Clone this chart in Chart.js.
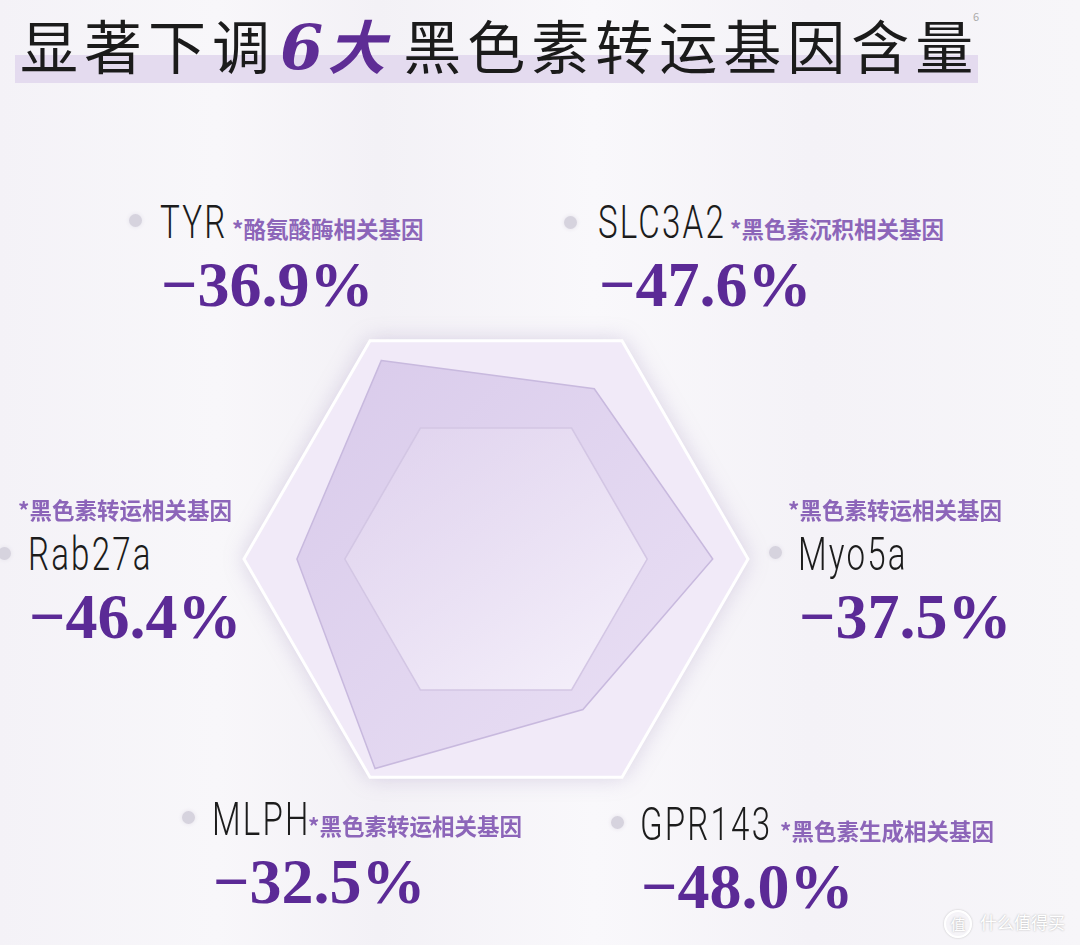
<!DOCTYPE html>
<html>
<head>
<meta charset="utf-8">
<script src="https://cdn.jsdelivr.net/npm/chart.js@4/dist/chart.umd.min.js"></script>
<style>
  html, body { margin: 0; padding: 0; }
  body {
    width: 1080px; height: 945px; position: relative; overflow: hidden;
    background: linear-gradient(90deg, #f4f2f7 0%, #f8f7fa 20%, #f3f1f6 35%, #f9f8fb 55%, #f4f2f7 75%, #f7f6f9 100%);
    font-family: "Noto Sans CJK SC", "Noto Sans", sans-serif;
  }
  .title-band { position: absolute; left: 15px; top: 55px; width: 963px; height: 28px; background: #e4dbef; }
  .title { position: absolute; left: 20px; top: 2px; font-size: 58px; line-height: 84px; color: #1b1b1b; letter-spacing: 6px; white-space: nowrap; }
  .title .hl { color: #5e2d95; font-family: "DejaVu Serif", serif; font-style: italic; font-weight: bold; font-size: 62px; letter-spacing: 0; margin: 0 4px 0 4px; }
  .title .hl2 { color: #5e2d95; font-weight: bold; font-style: italic; letter-spacing: 0; margin-right: 18px; }
  .sup { position: absolute; left: 973px; top: 8px; font-size: 11px; color: #aaa; }
  #wrap { position: absolute; left: 196px; top: 259px; width: 600px; height: 600px; }
  .dot { position: absolute; width: 13px; height: 13px; border-radius: 50%; background: #d6d3de; box-shadow: 0 0 4px #e3e0ea; }
  .name { position: absolute; font-family: "Roboto", sans-serif; font-weight: 300; font-size: 46px; line-height: 46px; color: #1c1c1c; letter-spacing: 3px; transform: scaleX(0.72); transform-origin: left top; white-space: nowrap; }
  .note { position: absolute; font-size: 22.5px; line-height: 24px; color: #8c65b9; font-weight: bold; white-space: nowrap; }
  .val { position: absolute; font-family: "Liberation Serif", "DejaVu Serif", serif; font-weight: bold; font-size: 64px; line-height: 64px; color: #5b2a96; white-space: nowrap; }
  .wm { position: absolute; left: 944px; top: 909px; color: #fff; font-size: 17px; text-shadow: 0 0 2px #aaa; white-space: nowrap; }
  .wm span { display: inline-block; width: 24px; height: 24px; border-radius: 50%; border: 2px solid #fff; box-shadow: 0 0 2px #bbb; text-align: center; line-height: 24px; font-size: 15px; margin-right: 8px; vertical-align: middle; }
</style>
</head>
<body>
<div class="title-band"></div>
<div class="title">显著下调<span class="hl">6</span><span class="hl2">大</span>黑色素转运基因含量</div>
<div class="sup">6</div>
<div id="wrap"><canvas id="radarChart"></canvas></div>
<div id="labels"></div>
<div class="wm"><span>值</span>什么值得买</div>

<script>
// genes around the hexagon, clockwise from top-left
const genes = ['TYR', 'SLC3A2', 'Myo5a', 'GPR143', 'MLPH', 'Rab27a'];
const notes = ['*酪氨酸酶相关基因', '*黑色素沉积相关基因', '*黑色素转运相关基因', '*黑色素生成相关基因', '*黑色素转运相关基因', '*黑色素转运相关基因'];
const changes = ['−36.9%', '−47.6%', '−37.5%', '−48.0%', '−32.5%', '−46.4%'];
// shape of the drawn polygon (share of outer hexagon)
const shape = [91, 78, 86, 69, 96, 79];
const gridRings = [60];

// label blocks: position of the gene name, and whether the note sits above it
const blocks = [
  { x: 160, y: 199, noteAbove: false, dot: [129, 214] },
  { x: 598, y: 199, noteAbove: false, dot: [564, 216] },
  { x: 798, y: 531, noteAbove: true,  dot: [769, 546] },
  { x: 640, y: 801, noteAbove: false, dot: [611, 816] },
  { x: 212, y: 796, noteAbove: false, dot: [182, 811] },
  { x: 28,  y: 531, noteAbove: true,  dot: [-2, 547] }
];
const nameWidths = [70, 130, 126, 138, 94, 126];

const labels = document.getElementById('labels');
genes.forEach((g, i) => {
  const b = blocks[i];
  let html = '<div class="dot" style="left:' + b.dot[0] + 'px;top:' + b.dot[1] + 'px"></div>';
  html += '<div class="name" style="left:' + b.x + 'px;top:' + b.y + 'px">' + g + '</div>';
  if (b.noteAbove) {
    html += '<div class="note" style="left:' + (b.x - 10) + 'px;top:' + (b.y - 34) + 'px">' + notes[i] + '</div>';
  } else {
    html += '<div class="note" style="left:' + (b.x + nameWidths[i] + 2) + 'px;top:' + (b.y + 17) + 'px">' + notes[i] + '</div>';
  }
  html += '<div class="val" style="left:' + (b.x + 1) + 'px;top:' + (b.y + 54) + 'px">' + changes[i] + '</div>';
  labels.insertAdjacentHTML('beforeend', html);
});

// outer hexagon plate + inner hexagon ring, drawn through the r scale
function hexPath(c, s, v) {
  c.beginPath();
  for (let i = 0; i < genes.length; i++) {
    const p = s.getPointPositionForValue(i, v);
    if (i === 0) c.moveTo(p.x, p.y); else c.lineTo(p.x, p.y);
  }
  c.closePath();
}

const hexPlate = {
  id: 'hexPlate',
  beforeDatasetsDraw(chart) {
    const s = chart.scales.r;
    const c = chart.ctx;
    c.save();
    c.shadowColor = 'rgba(150, 130, 180, 0.35)';
    c.shadowBlur = 22;
    hexPath(c, s, 100);
    c.fillStyle = '#f1eaf8';
    c.fill();
    c.restore();
    c.save();
    hexPath(c, s, 100);
    c.strokeStyle = '#ffffff';
    c.lineWidth = 3;
    c.stroke();
    c.restore();
  },
  afterDatasetsDraw(chart) {
    const s = chart.scales.r;
    const c = chart.ctx;
    c.save();
    hexPath(c, s, gridRings[0]);
    const g = c.createLinearGradient(s.xCenter - 100, s.yCenter - 140, s.xCenter + 100, s.yCenter + 140);
    g.addColorStop(0, 'rgba(228, 216, 240, 0.55)');
    g.addColorStop(1, 'rgba(246, 242, 251, 0.9)');
    c.fillStyle = g;
    c.fill();
    c.strokeStyle = '#d3c6e4';
    c.lineWidth = 1.5;
    c.stroke();
    c.restore();
  }
};

const ctx = document.getElementById('radarChart').getContext('2d');
const radarChart = new Chart(ctx, {
  type: 'radar',
  data: {
    labels: genes,
    datasets: [{
      label: 'shape',
      data: shape,
      borderColor: '#c8b9de',
      borderWidth: 1.5,
      backgroundColor: (context) => {
        const a = context.chart.chartArea;
        if (!a) return '#e2d6ef';
        const g = context.chart.ctx.createLinearGradient(a.left, a.top, a.right, a.bottom);
        g.addColorStop(0, '#d6c7e9');
        g.addColorStop(1, '#ece3f6');
        return g;
      },
      fill: true,
      pointRadius: 0,
      tension: 0
    }]
  },
  options: {
    responsive: true,
    maintainAspectRatio: false,
    animation: false,
    layout: { padding: 48 },
    plugins: { legend: { display: false }, tooltip: { enabled: false } },
    scales: {
      r: {
        min: 0,
        max: 100,
        startAngle: -30,
        ticks: { display: false, stepSize: 20 },
        grid: { display: false },
        angleLines: { display: false },
        pointLabels: { display: false }
      }
    }
  },
  plugins: [hexPlate]
});
</script>
</body>
</html>
